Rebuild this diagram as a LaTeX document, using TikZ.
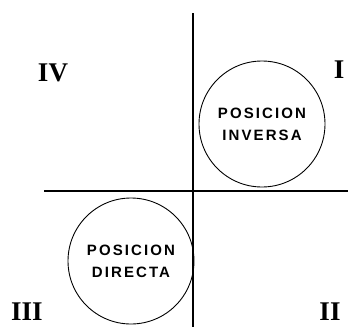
\documentclass[tikz,border=0pt]{standalone}
\usepackage{fontspec}
\newfontfamily\labfont[LetterSpace=14]{Liberation Sans}
\newfontfamily\numfont{Liberation Serif}
\begin{document}
\begin{tikzpicture}[x=1pt,y=-1pt,
  axis/.style={line width=1.4pt},
  posc/.style={draw,circle,line width=0.9pt,minimum size=126pt,inner sep=0pt,align=center,
    font=\labfont\bfseries\fontsize{15}{22}\selectfont},
  quad/.style={anchor=base,inner sep=0pt,font=\numfont\bfseries\fontsize{27}{27}\selectfont}]
\useasboundingbox (0,0) rectangle (353,327);
\coordinate (vt) at (193,13);
\coordinate (vb) at (193,327);
\coordinate (hl) at (44,191);
\coordinate (hr) at (348,191);
\draw[axis] (vt) -- (vb);
\draw[axis] (hl) -- (hr);
\node[quad] (q4) at (53,81) {IV};
\node[quad] (q1) at (339,78) {I};
\node[quad] (q3) at (27,320) {III};
\node[quad] (q2) at (330,320) {II};
\node[posc] (inv) at (262,124) {POSICION\\INVERSA};
\node[posc] (dir) at (131,261) {POSICION\\DIRECTA};
\end{tikzpicture}
\end{document}
